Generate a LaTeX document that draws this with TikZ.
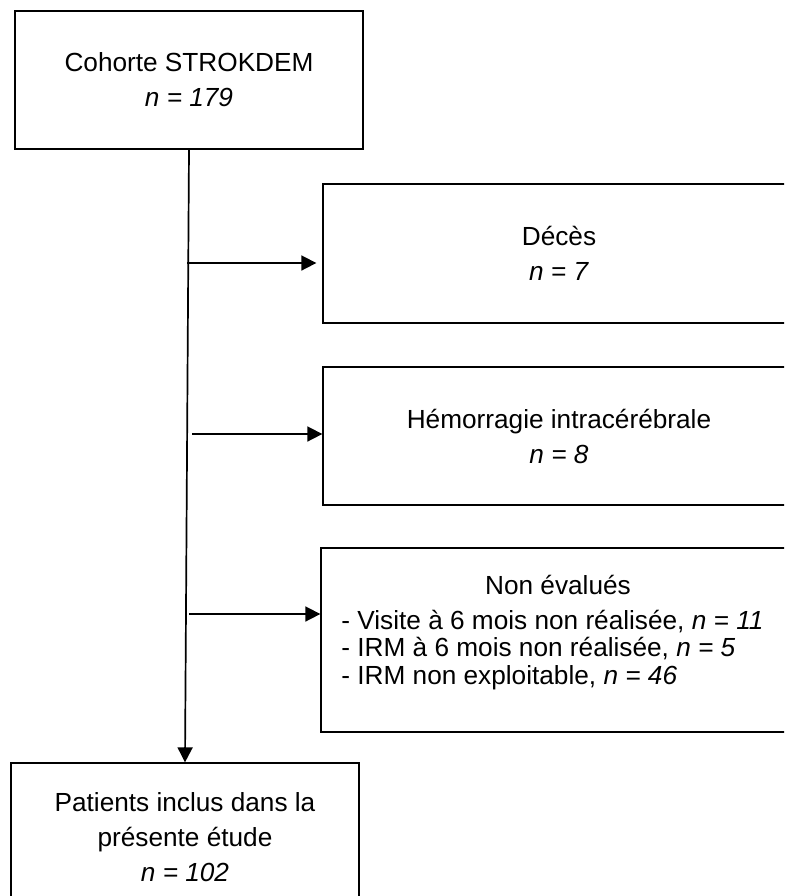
\documentclass[tikz,border=0pt]{standalone}
\usepackage{fontspec}
\setmainfont{Liberation Sans}
\usetikzlibrary{arrows.meta}
\tikzstyle{box} = [rectangle, draw, line width=0.65pt, align=center, inner sep=0pt, font=\fontsize{13.1pt}{17.5pt}\selectfont]
\tikzstyle{txt} = [inner sep=0pt, font=\fontsize{13.1pt}{13.75pt}\selectfont]

\begin{document}
\begin{tikzpicture}[x=0.5pt, y=-0.5pt, >={Triangle[length=7.5pt, width=7.5pt]}]

    \useasboundingbox (0,0) rectangle (784,896);
    \clip (0,0) rectangle (784,896);

    \node[box, minimum width=174pt, minimum height=69pt] (cohorte) at (189,80) {Cohorte STROKDEM\\\textit{n = 179}};
    \node[box, minimum width=236pt, minimum height=69.5pt] (deces) at (559,253.5) {Décès\\\textit{n = 7}};
    \node[box, minimum width=236pt, minimum height=69pt] (hemo) at (559,436) {Hémorragie intracérébrale\\\textit{n = 8}};
    \node[box, minimum width=237pt, minimum height=92pt] (nonev) at (558,640) {};
    \node[box, minimum width=174pt, minimum height=74pt] (inclus) at (185,837) {Patients inclus dans la\\présente étude\\\textit{n = 102}};

    % texte du cadre des non evalues
    \node[txt] (nonevtitre) at (558,585) {Non évalués};
    \node[txt, align=left, anchor=west] (nonevliste) at (341,650) {- Visite à 6 mois non réalisée, \textit{n = 11}\\- IRM à 6 mois non réalisée, \textit{n = 5}\\- IRM non exploitable, \textit{n = 46}};

    \coordinate (d1) at (187,263);
    \coordinate (d2) at (192,434);
    \coordinate (d3) at (189,614);

    \path[->, line width=0.85pt]
        (cohorte.south) edge (inclus.north)
        (d1) edge[shorten >=3pt] (d1 -| deces.west)
        (d2) edge (d2 -| hemo.west)
        (d3) edge (d3 -| nonev.west)
    ;

\end{tikzpicture}
\end{document}
